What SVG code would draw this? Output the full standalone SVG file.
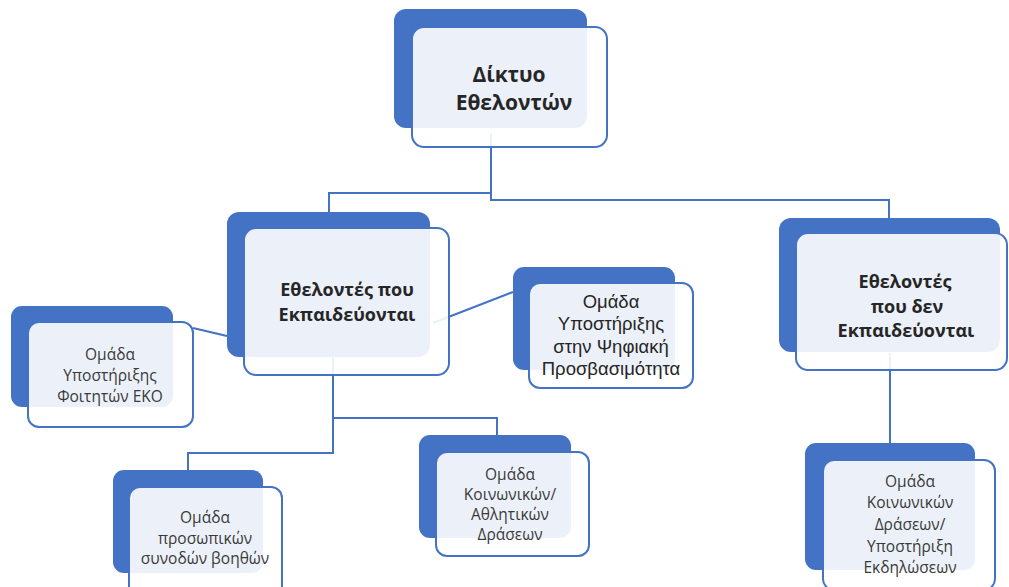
<svg xmlns="http://www.w3.org/2000/svg" width="1009" height="587" viewBox="0 0 1009 587">
<style>
.back{fill:#4472C4;}
.front{fill:#ffffff;fill-opacity:0.9;stroke:#4472C4;stroke-width:2;}
.conn{fill:none;stroke:#4472C4;stroke-width:2;}
.tb{font-family:"Open Sans","Noto Sans",sans-serif;font-weight:bold;fill:#262626;text-anchor:middle;}
.tn{font-family:"Open Sans","Noto Sans",sans-serif;fill:#3a3a3a;text-anchor:middle;font-size:15.5px;}
.ta{font-family:"Liberation Sans",Arial,sans-serif;fill:#262626;text-anchor:middle;font-size:18.5px;}
</style>
<rect width="1009" height="587" fill="#ffffff"/>
<g id="connectors">
<polyline class="conn" points="491,133 491,193 329,193 329,212"/>
<polyline class="conn" points="491,133 491,200 889,200 889,218"/>
<line class="conn" x1="193" y1="328" x2="227" y2="336"/>
<line class="conn" x1="433" y1="323" x2="513" y2="292"/>
<polyline class="conn" points="333,357 333,453 188,453 188,470"/>
<polyline class="conn" points="333,418 497,418 497,435"/>
<line class="conn" x1="890" y1="353" x2="890" y2="443"/>
</g>
<g id="node-root">
<rect class="back" x="394" y="9" width="193" height="119" rx="12"/>
<rect class="front" x="412" y="27" width="195" height="120" rx="12"/>
<text class="tb" font-size="21" x="509" y="82">Δίκτυο</text>
<text class="tb" font-size="21" x="514" y="110">Εθελοντών</text>
</g>
<g id="node-trained">
<rect class="back" x="227" y="212" width="203" height="145" rx="12"/>
<rect class="front" x="244" y="228" width="205" height="147" rx="12"/>
<text class="tb" font-size="18" x="347" y="296">Εθελοντές που</text>
<text class="tb" font-size="18" x="347" y="321">Εκπαιδεύονται</text>
</g>
<g id="node-untrained">
<rect class="back" x="779" y="218" width="221" height="134" rx="12"/>
<rect class="front" x="796" y="233" width="211" height="137" rx="12"/>
<text class="tb" font-size="18" x="905" y="288">Εθελοντές</text>
<text class="tb" font-size="18" x="907" y="313">που δεν</text>
<text class="tb" font-size="18" x="906" y="337">Εκπαιδεύονται</text>
</g>
<g id="node-eko">
<rect class="back" x="11" y="306" width="162" height="101" rx="11"/>
<rect class="front" x="28" y="322" width="165" height="105" rx="11"/>
<text class="tn" x="110" y="360">Ομάδα</text>
<text class="tn" x="110" y="381">Υποστήριξης</text>
<text class="tn" x="110" y="402">Φοιτητών ΕΚΟ</text>
</g>
<g id="node-digital">
<rect class="back" x="513" y="267" width="162" height="103" rx="11"/>
<rect class="front" x="529" y="283" width="164" height="105" rx="11"/>
<text class="ta" x="611" y="308">Ομάδα</text>
<text class="ta" x="611" y="330">Υποστήριξης</text>
<text class="ta" x="611" y="353">στην Ψηφιακή</text>
<text class="ta" x="611" y="375">Προσβασιμότητα</text>
</g>
<g id="node-companions">
<rect class="back" x="113" y="470" width="150" height="103" rx="11"/>
<rect class="front" x="129" y="487" width="153" height="110" rx="11"/>
<text class="tn" x="205" y="523">Ομάδα</text>
<text class="tn" x="205" y="544">προσωπικών</text>
<text class="tn" x="205" y="564">συνοδών βοηθών</text>
</g>
<g id="node-social-sports">
<rect class="back" x="419" y="435" width="152" height="103" rx="11"/>
<rect class="front" x="436" y="452" width="153" height="104" rx="11"/>
<text class="tn" x="510" y="480">Ομάδα</text>
<text class="tn" x="510" y="500">Κοινωνικών/</text>
<text class="tn" x="510" y="520">Αθλητικών</text>
<text class="tn" x="510" y="540">Δράσεων</text>
</g>
<g id="node-events">
<rect class="back" x="805" y="443" width="170" height="127" rx="11"/>
<rect class="front" x="823" y="460" width="172" height="130" rx="11"/>
<text class="tn" x="910" y="487">Ομάδα</text>
<text class="tn" x="910" y="508">Κοινωνικών</text>
<text class="tn" x="910" y="530">Δράσεων/</text>
<text class="tn" x="910" y="552">Υποστήριξη</text>
<text class="tn" x="910" y="573">Εκδηλώσεων</text>
</g>
</svg>
